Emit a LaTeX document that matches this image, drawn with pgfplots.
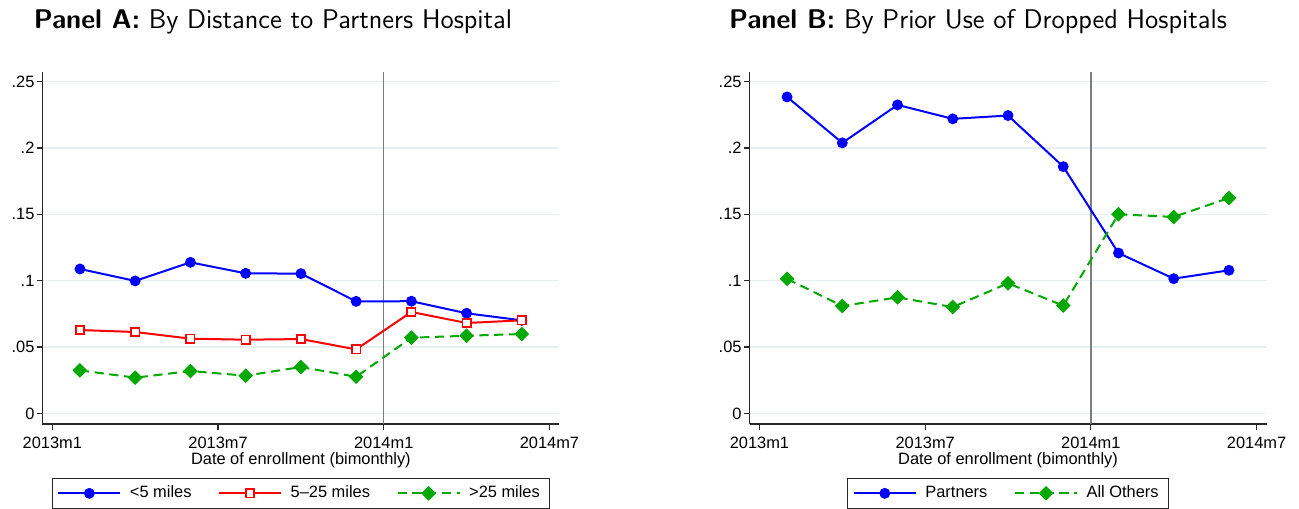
\documentclass[border=0pt]{standalone}
\usepackage{fontspec}
\setmainfont{Liberation Sans}
\usepackage{pgfplots}
\pgfplotsset{compat=1.18}
\definecolor{sgreen}{RGB}{0,168,0}
\definecolor{gridc}{RGB}{230,239,241}
\definecolor{axc}{RGB}{40,40,40}
\definecolor{vline}{RGB}{125,125,125}
\pgfplotsset{
  stataax/.style={
    scale only axis, width=258.5pt, height=176.2pt,
    xmin=-0.36, xmax=18.36, ymin=-0.008, ymax=0.2575,
    axis x line*=bottom, axis y line*=left,
    axis line style={axc, line width=0.65pt},
    xtick={0,6,12,18}, xticklabels={2013m1,2013m7,2014m1,2014m7},
    ytick={0,0.05,0.1,0.15,0.2,0.25}, yticklabels={0,.05,.1,.15,.2,.25},
    tick align=outside, major tick length=2.8pt,
    tick style={axc, line width=0.6pt},
    ymajorgrids, grid style={gridc, line width=0.6pt},
    ticklabel style={font=\fontsize{8.2}{10}\selectfont},
    yticklabel style={inner sep=1pt},
    xlabel={Date of enrollment (bimonthly)},
    xlabel style={font=\fontsize{8.2}{10}\selectfont, at={(axis description cs:0.5,-0.103)}, anchor=center},
    /pgf/number format/assume math mode=true,
    legend style={at={(0.5,-0.1524)}, anchor=north, draw=axc, line width=0.6pt,
      font=\fontsize{8.2}{10}\selectfont, inner xsep=2.5pt, inner ysep=1.5pt,
      nodes={inner sep=2.3pt},
      /tikz/every even column/.append style={column sep=11pt}},
    legend columns=-1,
    legend image code/.code={\draw[mark repeat=2,mark phase=2] plot coordinates {(0pt,0pt)(15.5pt,0pt)(31pt,0pt)};\path (33pt,0pt);},
  },
  sblue/.style={blue, line width=1pt, mark=*, mark size=2.2pt, mark options={solid}},
  sred/.style={red, line width=1pt, mark=square*, mark size=2.1pt, mark options={solid, fill=white, line width=0.8pt}},
  sgr/.style={sgreen, line width=1pt, dash pattern=on 4.6pt off 2.8pt, mark=square*, mark size=2.1pt, mark options={solid, rotate=45}},
}
\begin{document}
\begin{tikzpicture}
\path[use as bounding box] (0,0) rectangle (649.5pt,254pt);
\node[anchor=base, font=\fontsize{13.5}{15}\selectfont\sffamily] at (136.5pt,239.9pt) {\textbf{Panel A:} By Distance to Partners Hospital};
\node[anchor=base, font=\fontsize{13.5}{15}\selectfont\sffamily] at (489pt,239.9pt) {\textbf{Panel B:} By Prior Use of Dropped Hospitals};
\begin{axis}[stataax, at={(21.2pt,42pt)}, anchor=south west]
\addplot[vline, line width=0.65pt, forget plot] coordinates {(12,-0.008) (12,0.2575)};
\addplot[sblue] coordinates {(1,0.1088) (3,0.0998) (5,0.1138) (7,0.1055) (9,0.1053) (11,0.0844) (13,0.0845) (15,0.0754) (17,0.0701)};
\addlegendentry{<5 miles}
\addplot[sred] coordinates {(1,0.0628) (3,0.0613) (5,0.0563) (7,0.0555) (9,0.0560) (11,0.0482) (13,0.0764) (15,0.0681) (17,0.0701)};
\addlegendentry{5--25 miles}
\addplot[sgr] coordinates {(1,0.0324) (3,0.0269) (5,0.0319) (7,0.0284) (9,0.0349) (11,0.0276) (13,0.0570) (15,0.0585) (17,0.0598)};
\addlegendentry{>25 miles}
\end{axis}
\begin{axis}[stataax, at={(374.75pt,42pt)}, anchor=south west]
\addplot[vline, line width=0.65pt, forget plot] coordinates {(12,-0.008) (12,0.2575)};
\addplot[sblue] coordinates {(1,0.2384) (3,0.2038) (5,0.2324) (7,0.2219) (9,0.2244) (11,0.1859) (13,0.1208) (15,0.1015) (17,0.1078)};
\addlegendentry{Partners}
\addplot[sgr] coordinates {(1,0.1013) (3,0.0809) (5,0.0874) (7,0.0801) (9,0.0980) (11,0.0812) (13,0.1500) (15,0.1480) (17,0.1623)};
\addlegendentry{All Others}
\end{axis}
\end{tikzpicture}
\end{document}
